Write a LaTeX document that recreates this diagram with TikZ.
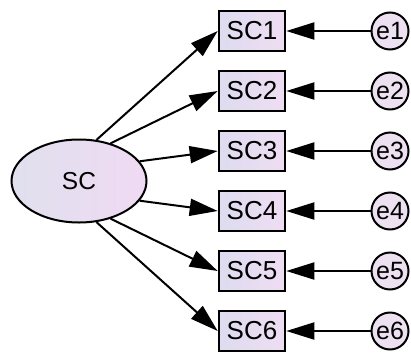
\documentclass[tikz,border=0pt]{standalone}
\usepackage{fontspec}
\setmainfont{Liberation Sans}
\usetikzlibrary{arrows.meta}
\usetikzlibrary{shapes.geometric}
\definecolor{lavleft}{HTML}{E0E0EE}
\definecolor{lavright}{HTML}{EFDAF3}
\definecolor{boxleft}{HTML}{DEDCF0}
\definecolor{boxright}{HTML}{EEDDF2}
\definecolor{errfill}{HTML}{ECE0F1}
\tikzstyle{latent} = [ellipse, draw, line width=2pt, minimum width=135pt,
    minimum height=83pt, inner sep=0pt, left color=lavleft, right color=lavright,
    font=\fontsize{24.5}{28}\selectfont]
\tikzstyle{observed} = [rectangle, draw, line width=2.6pt, minimum width=66pt,
    minimum height=40pt, inner sep=0pt, left color=boxleft, right color=boxright,
    font=\fontsize{26}{30}\selectfont]
\tikzstyle{errvar} = [circle, draw, line width=2pt, minimum size=37pt,
    inner sep=0pt, fill=errfill, font=\fontsize{25}{28}\selectfont]
\tikzset{>={Triangle[length=28pt,width=17pt]}}

\begin{document}
\begin{tikzpicture}[x=1pt,y=-1pt]
    \useasboundingbox (0,0) rectangle (411,353);
    %latent variable
    \node[latent] (SC) at (79,181) {SC};
    %indicators
    \node[observed] (SC1) at (252,31) {SC1};
    \node[observed] (SC2) at (252,91) {SC2};
    \node[observed] (SC3) at (252,151) {SC3};
    \node[observed] (SC4) at (252,211) {SC4};
    \node[observed] (SC5) at (252,271) {SC5};
    \node[observed] (SC6) at (252,331) {SC6};
    %errors
    \node[errvar] (e1) at (390,31) {e1};
    \node[errvar] (e2) at (390,91) {e2};
    \node[errvar] (e3) at (390,151) {e3};
    \node[errvar] (e4) at (390,211) {e4};
    \node[errvar] (e5) at (390,271) {e5};
    \node[errvar] (e6) at (390,331) {e6};
    %loadings
    \draw[->, line width=2pt] (SC.67) to (SC1.west);
    \draw[->, line width=2pt] (SC.50) to (SC2.west);
    \draw[->, line width=2pt] (SC.18) to (SC3.west);
    \draw[->, line width=2pt] (SC.-18) to (SC4.west);
    \draw[->, line width=2pt] (SC.-50) to (SC5.west);
    \draw[->, line width=2pt] (SC.-67) to (SC6.west);
    %error paths
    \draw[->, line width=2pt] (e1) to (SC1);
    \draw[->, line width=2pt] (e2) to (SC2);
    \draw[->, line width=2pt] (e3) to (SC3);
    \draw[->, line width=2pt] (e4) to (SC4);
    \draw[->, line width=2pt] (e5) to (SC5);
    \draw[->, line width=2pt] (e6) to (SC6);
\end{tikzpicture}
\end{document}
